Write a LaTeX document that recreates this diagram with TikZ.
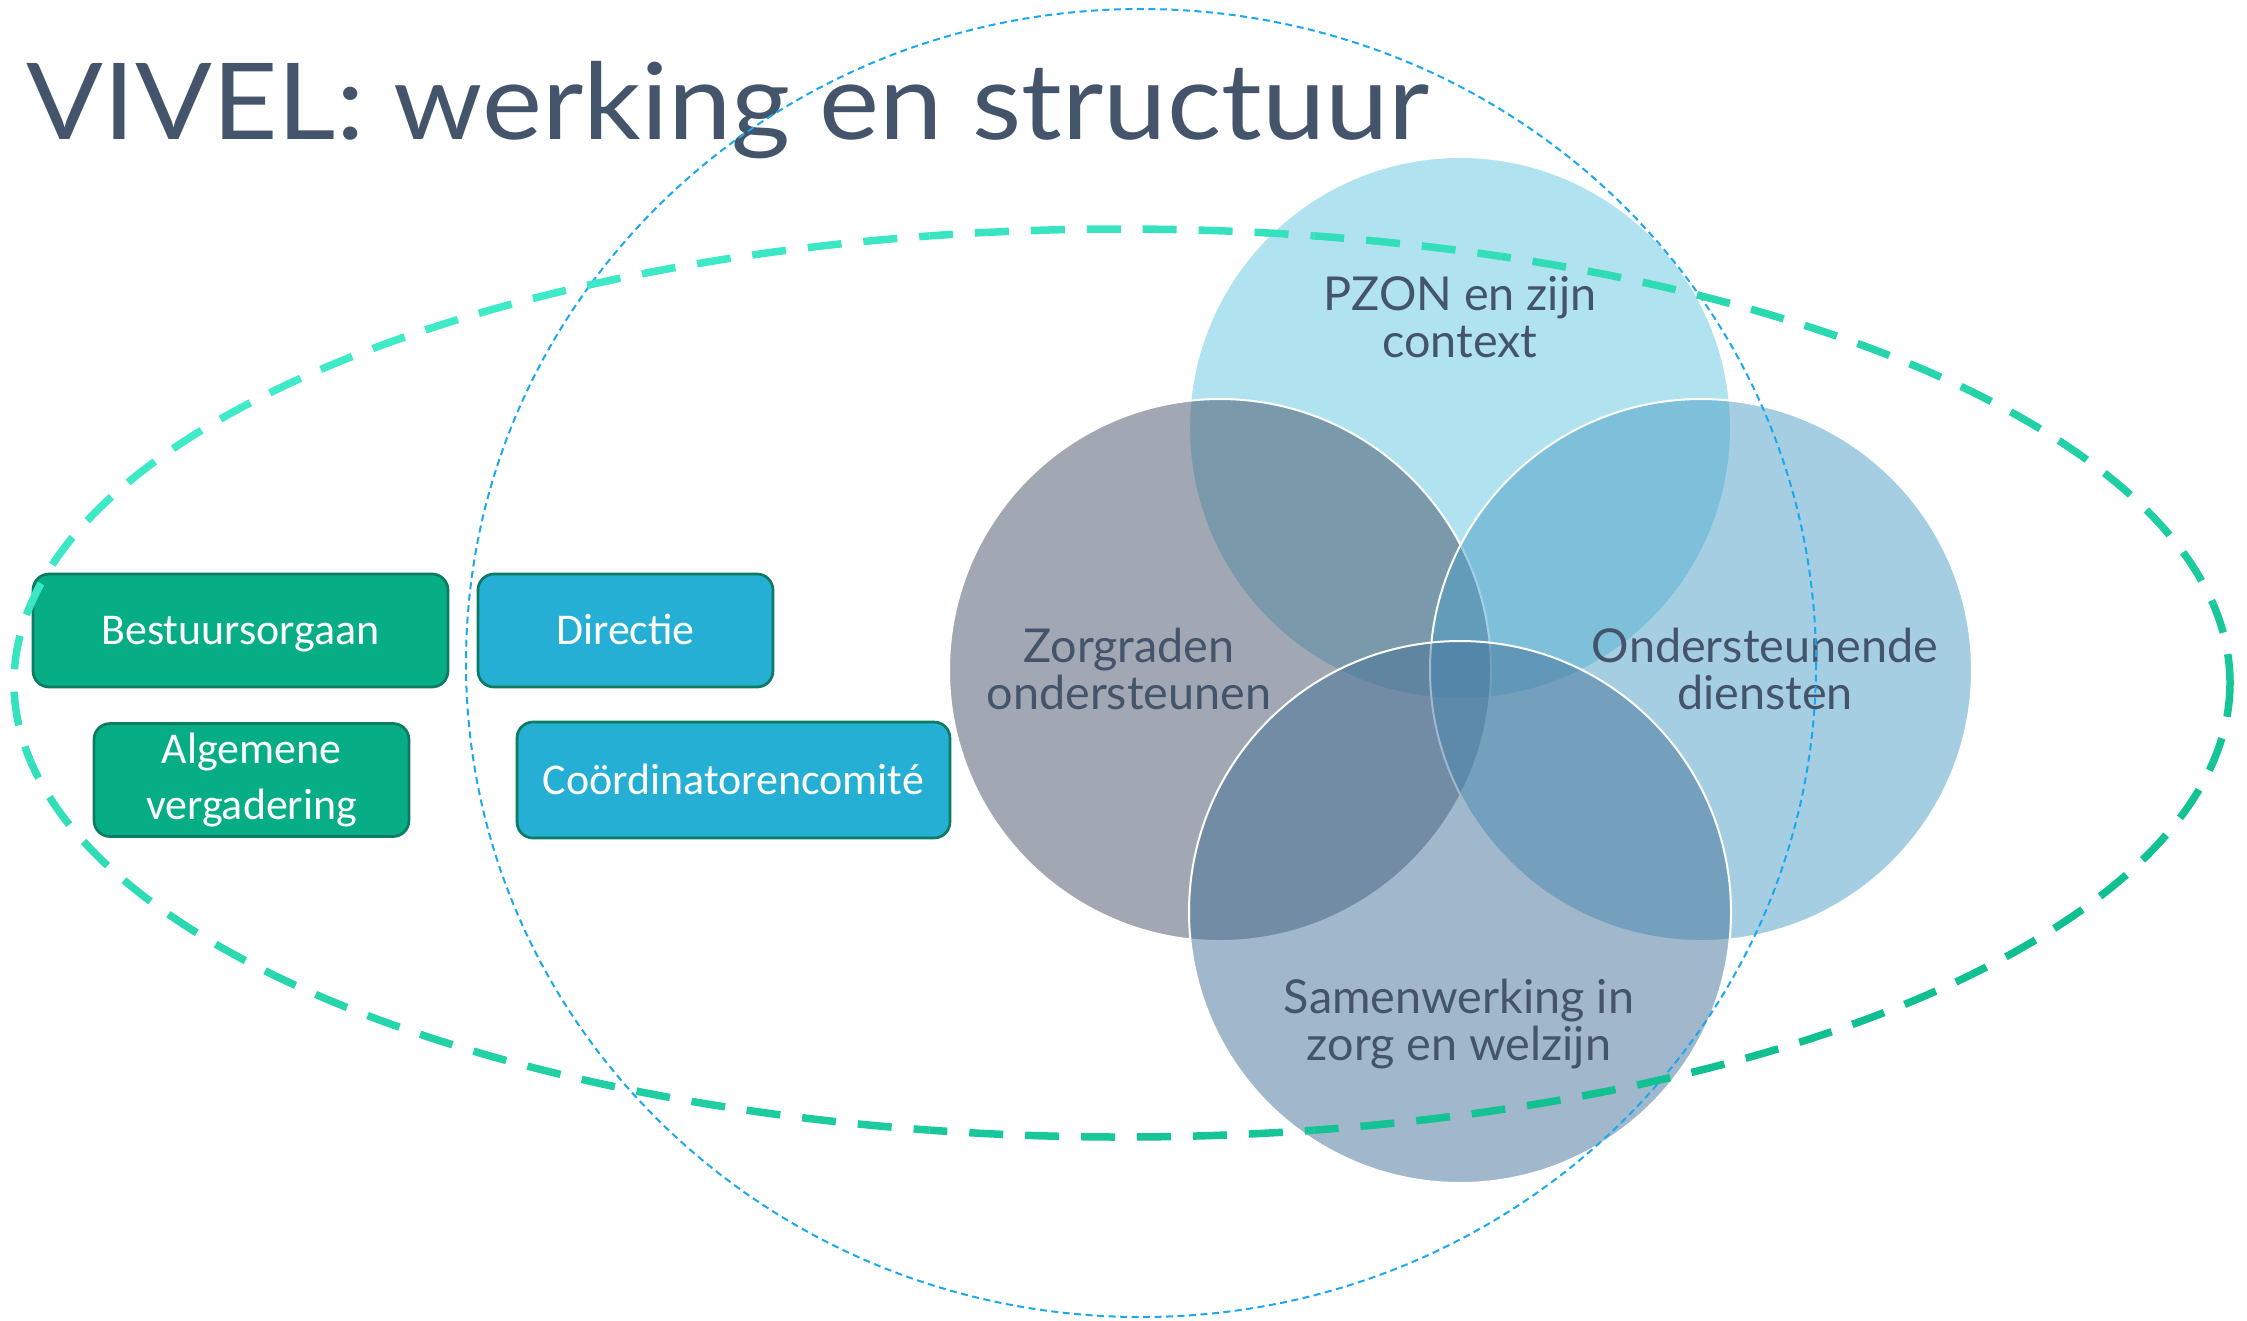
\documentclass[tikz,border=0pt]{standalone}
\usepackage{fontspec}
\setmainfont{Lato}
\newfontfamily\boxfont{Carlito}
\definecolor{slate}{HTML}{44546A}
\definecolor{cP}{RGB}{101,199,225}
\definecolor{cZ}{RGB}{69,83,105}
\definecolor{cO}{RGB}{77,159,199}
\definecolor{cS}{RGB}{69,113,153}
\definecolor{tealL}{HTML}{3EEAC8}
\definecolor{tealD}{HTML}{10C090}
\definecolor{dotblue}{HTML}{1AA8EE}
\definecolor{boxgreen}{HTML}{07AE85}
\definecolor{boxblue}{HTML}{26AFD4}
\definecolor{boxedge}{HTML}{0C7B62}
\begin{document}
\begin{tikzpicture}[x=0.1mm, y=-0.1mm,
  vcircle/.style={circle, minimum size=54.2mm, inner sep=0, draw=white, line width=0.2mm, fill opacity=0.5, draw opacity=1},
  vlabel/.style={text=slate, align=center, inner sep=0, font=\fontsize{13.3}{13.4}\selectfont},
  orgbox/.style={rounded corners=1.6mm, draw=boxedge, line width=0.27mm, text=white, inner sep=0, align=center, minimum height=11.3mm, font=\boxfont\fontsize{12.5}{16.2}\selectfont},
  oneline/.style={text height=2.8mm, text depth=0mm},
  tealdash/.style={line width=0.75mm, dash pattern=on 3.4mm off 2.2mm},
  bluedash/.style={draw=dotblue, line width=0.2mm, dash pattern=on 0.7mm off 0.45mm}]
\useasboundingbox (0,0) rectangle (2247,1320);
\fill[white] (0,0) rectangle (2247,1320);
% title
\node[anchor=base west, text=slate, inner sep=0, font=\fontsize{30.2}{36}\selectfont] (title) at (26,139) {\scalebox{1.07}[1]{VIVEL: werking en structuur}};
% venn circles
\node[vcircle, fill=cP] (pzon) at (1460,428) {};
\node[vcircle, fill=cZ] (zorg) at (1220,670) {};
\node[vcircle, fill=cO] (onder) at (1701,670) {};
\node[vcircle, fill=cS] (samen) at (1460,912) {};
\node[vlabel] (lpzon) at (1460,317) {PZON en zijn\\context};
\node[vlabel] (lzorg) at (1129,669) {Zorgraden\\ondersteunen};
\node[vlabel] (londer) at (1765,669) {Ondersteunende\\diensten};
\node[vlabel] (lsamen) at (1459,1024) {Samenwerking in\\zorg en welzijn};
% boxes
\node[orgbox, oneline, fill=boxgreen, minimum width=41.5mm] (bestuur) at (240.5,630.5) {Bestuursorgaan};
\node[orgbox, oneline, fill=boxblue, minimum width=29.5mm] (directie) at (625.5,630.5) {Directie};
\node[orgbox, fill=boxgreen, minimum width=31.5mm] (algemeen) at (251.5,780) {Algemene\\vergadering};
\node[orgbox, oneline, fill=boxblue, minimum width=43.3mm, minimum height=11.6mm] (coord) at (733.5,780) {Coördinatorencomité};
% ellipses
\draw[bluedash] (1141,663) ellipse [x radius=675, y radius=654];
\gdef\cum{0}
\foreach \a in {0,10,...,350}{
  \pgfmathsetmacro\p{50*(1+(cos(\a+5)+sin(\a+5))/1.41421)}
  \pgfmathsetmacro\ph{mod(\cum,56)*0.1}
  \draw[tealdash, dash phase=\ph mm, draw=tealD!\p!tealL] (1122,683) ++(\a:1108 and 454) arc[start angle=\a, delta angle=10, x radius=1108, y radius=454];
  \pgfmathsetmacro\seg{174.533*sqrt((1.108*sin(\a+5))^2+(0.454*cos(\a+5))^2)}
  \pgfmathsetmacro\newcum{\cum+\seg}
  \global\let\cum\newcum
}
\end{tikzpicture}
\end{document}
